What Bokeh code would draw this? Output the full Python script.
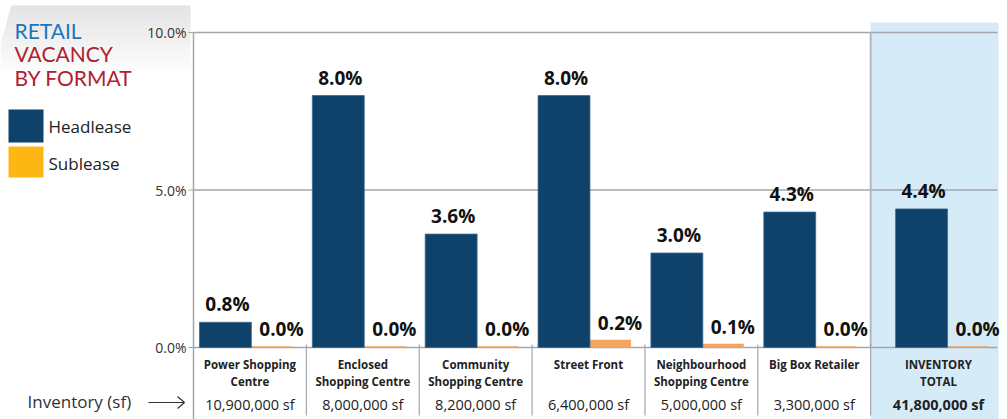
from bokeh.plotting import figure
from bokeh.models import Range1d
from bokeh.embed import file_html
from bokeh.resources import INLINE
from bokeh.core.properties import value

# ---------------- data ----------------
categories_line1 = ["Power Shopping", "Enclosed", "Community", "Street Front",
                    "Neighbourhood", "Big Box Retailer", "INVENTORY"]
categories_line2 = ["Centre", "Shopping Centre", "Shopping Centre", "",
                    "Shopping Centre", "", "TOTAL"]
inventory_sf = ["10,900,000 sf", "8,000,000 sf", "8,200,000 sf", "6,400,000 sf",
                "5,000,000 sf", "3,300,000 sf", "41,800,000 sf"]
headlease = [0.8, 8.0, 3.6, 8.0, 3.0, 4.3, 4.4]
sublease = [0.04, 0.04, 0.04, 0.25, 0.12, 0.04, 0.04]
y_ticks = [0, 5, 10]
series_names = ["Headlease", "Sublease"]

# ---------------- geometry ----------------
W, H = 1007, 419
X_LEFT_PX = 193.0
CAT_W_PX = 112.86
Y0_PX = 347.0
UNIT_PX = 31.5


def px_x(p):
    return (p - X_LEFT_PX) / CAT_W_PX


def px_y(p):
    return (Y0_PX - p) / UNIT_PX


NAVY = "#0E426A"
ORANGE = "#F6A55E"
GOLD = "#FDB714"
HIGHLIGHT = "#D5ECF8"
GRID = "#A3A7AB"
TEXT = "#222222"
FONT = "Open Sans"

n = len(headlease)
idx = list(range(n))
# the total column sits in a wider highlighted panel, so its group is shifted right
group_shift = [0.0] * (n - 1) + [0.168]

p = figure(width=W, height=H, output_backend="svg", toolbar_location=None,
           x_range=Range1d(px_x(0), px_x(W)), y_range=Range1d(px_y(H), px_y(0)),
           x_axis_type=None, y_axis_type=None, min_border=0,
           outline_line_color=None, background_fill_color="white")
p.grid.visible = False

# title background gradient
steps = 14
for k in range(steps):
    t = k / (steps - 1)
    c = int(228 + (255 - 228) * t)
    col = "#%02x%02x%02x" % (c, c, c)
    y_top = 5 + k * 5
    p.quad(left=px_x(0), right=px_x(190), top=px_y(y_top), bottom=px_y(y_top + 5.5),
           fill_color=col, line_color=None)
# slanted left edge of the title panel
p.patch(x=[px_x(-1), px_x(11), px_x(-1)], y=[px_y(4), px_y(4), px_y(48)],
        fill_color="white", line_color=None)

# highlight for total column
p.quad(left=6, right=px_x(998), top=px_y(22), bottom=px_y(H),
       fill_color=HIGHLIGHT, line_color=None)

# gridlines
right_end = px_x(997)
p.segment(x0=[0] * len(y_ticks), x1=[right_end] * len(y_ticks), y0=y_ticks, y1=y_ticks,
          line_color=GRID, line_width=1.5)
# tick marks
p.segment(x0=[px_x(188)] * len(y_ticks), x1=[0] * len(y_ticks), y0=y_ticks, y1=y_ticks,
          line_color=GRID, line_width=1.2)
# left axis line
p.segment(x0=[0], x1=[0], y0=[10], y1=[px_y(H)], line_color=GRID, line_width=1.5)
# highlight left border
p.segment(x0=[6], x1=[6], y0=[10], y1=[0], line_color="#B4B8BC", line_width=2)
# category separators in label area
seps = list(range(1, n + 1))
p.segment(x0=seps[:-1], x1=seps[:-1], y0=[px_y(344)] * (n - 1), y1=[px_y(415)] * (n - 1),
          line_color=GRID, line_width=1.2)

# y tick labels
p.text(x=[px_x(186)] * len(y_ticks), y=y_ticks, text=["%.1f%%" % v for v in y_ticks],
       text_align="right", text_baseline="middle", text_font=value(FONT),
       text_font_size="14px", text_color="#333333")

# bars
BAR_W = 0.46
head_x = [i + 0.283 + s for i, s in zip(idx, group_shift)]
sub_x = [i + 0.646 + s for i, s in zip(idx, group_shift)]
p.vbar(x=sub_x, top=sublease, bottom=0, width=BAR_W, fill_color=ORANGE, line_color=None)
p.vbar(x=head_x, top=headlease, bottom=0, width=BAR_W, fill_color=NAVY,
       line_color="#3C6A90", line_width=0.8)

# value labels
p.text(x=head_x, y=headlease, text=["%.1f%%" % v for v in headlease],
       text_align="center", text_baseline="middle", y_offset=-18, x_offset=2,
       text_font=value(FONT), text_font_style="bold", text_font_size="19px",
       text_color="#111111")
p.text(x=sub_x, y=sublease, text=["%.1f%%" % v for v in sublease],
       text_align="center", text_baseline="middle", y_offset=-17, x_offset=15,
       text_font=value(FONT), text_font_style="bold", text_font_size="19px",
       text_color="#111111")

# category labels
cat_x = [i + 0.5 + s * 0.6 for i, s in zip(idx, group_shift)]
p.text(x=cat_x, y=[px_y(364)] * n, text=categories_line1, text_align="center",
       text_baseline="middle", text_font=value(FONT), text_font_style="bold",
       text_font_size="11.5px", text_color=TEXT)
p.text(x=cat_x, y=[px_y(380.5)] * n, text=categories_line2, text_align="center",
       text_baseline="middle", text_font=value(FONT), text_font_style="bold",
       text_font_size="11.5px", text_color=TEXT)

# inventory values
p.text(x=cat_x[:-1], y=[px_y(404)] * (n - 1), text=inventory_sf[:-1], text_align="center",
       text_baseline="middle", text_font=value(FONT), text_font_size="14.5px",
       text_color=TEXT)
p.text(x=cat_x[-1:], y=[px_y(404)], text=inventory_sf[-1:], text_align="center",
       text_baseline="middle", text_font=value(FONT), text_font_style="bold",
       text_font_size="14.5px", text_color=TEXT)

# "Inventory (sf) -->"
p.text(x=[px_x(27)], y=[px_y(401)], text=["Inventory (sf)"], text_align="left",
       text_baseline="middle", text_font=value(FONT), text_font_size="17px",
       text_color="#333333")
ay = px_y(402)
p.segment(x0=[px_x(148)], x1=[px_x(184)], y0=[ay], y1=[ay], line_color="#333333", line_width=1.2)
p.segment(x0=[px_x(177), px_x(177)], x1=[px_x(184), px_x(184)],
          y0=[px_y(396), px_y(408)], y1=[ay, ay], line_color="#333333", line_width=1.2)

# title
p.text(x=[px_x(14)], y=[px_y(30)], text=["RETAIL"], text_baseline="middle",
       text_font=value("Lato"), text_font_size="21px", text_color="#1C75BC")
p.text(x=[px_x(14), px_x(14)], y=[px_y(53), px_y(77)], text=["VACANCY", "BY FORMAT"],
       text_baseline="middle", text_font=value("Lato"), text_font_size="21px",
       text_color="#B2202E")

# legend
p.quad(left=[px_x(8), px_x(8)], right=[px_x(43), px_x(43)],
       top=[px_y(109), px_y(146)], bottom=[px_y(142), px_y(177)],
       fill_color=[NAVY, GOLD], line_color=None)
p.text(x=[px_x(48), px_x(48)], y=[px_y(126), px_y(163)], text=series_names,
       text_baseline="middle", text_font=value(FONT), text_font_size="17px",
       text_color="#222222")

open("out.html", "w").write(file_html(p, INLINE))
